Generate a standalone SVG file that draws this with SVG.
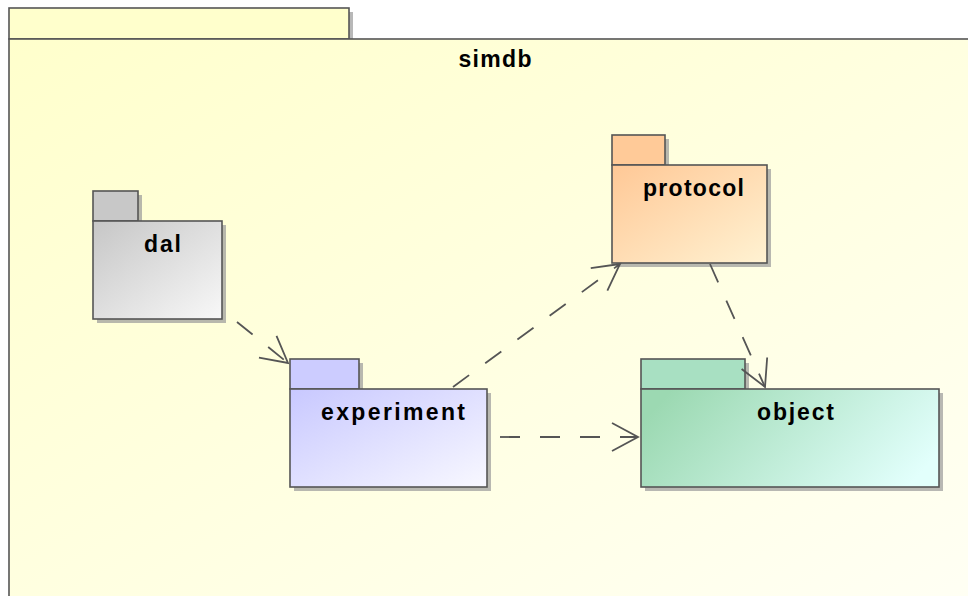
<svg xmlns="http://www.w3.org/2000/svg" width="968" height="596" viewBox="0 0 968 596">
  <style>
    .box { stroke: #555555; stroke-width: 1.6; }
    .shadow { fill: #9a9a9a; opacity: 0.7; }
    .label { font-family: "Liberation Sans", Arial, sans-serif; font-weight: bold; font-size: 23px; fill: #000000; text-anchor: middle; }
    .dep { fill: none; stroke: #555555; stroke-width: 1.8; stroke-dasharray: 20 20; }
  </style>
  <defs>
    <linearGradient id="gOuter" x1="0" y1="0" x2="1" y2="1">
      <stop offset="0" stop-color="#FFFFCC"/>
      <stop offset="1" stop-color="#FFFFF4"/>
    </linearGradient>
    <linearGradient id="gDal" x1="0" y1="0" x2="1" y2="1">
      <stop offset="0" stop-color="#C6C6C6"/>
      <stop offset="1" stop-color="#F8F8F8"/>
    </linearGradient>
    <linearGradient id="gExp" x1="0" y1="0" x2="1" y2="1">
      <stop offset="0" stop-color="#C8C8FF"/>
      <stop offset="1" stop-color="#F8F8FF"/>
    </linearGradient>
    <linearGradient id="gProt" x1="0" y1="0" x2="1" y2="1">
      <stop offset="0" stop-color="#FFC896"/>
      <stop offset="1" stop-color="#FFF2D2"/>
    </linearGradient>
    <linearGradient id="gObj" x1="0" y1="0.35" x2="1" y2="0.65">
      <stop offset="0" stop-color="#9CD9B2"/>
      <stop offset="1" stop-color="#E2FFFC"/>
    </linearGradient>
    <marker id="arr" viewBox="-32 -20 40 40" refX="0" refY="0" markerWidth="40" markerHeight="40" markerUnits="userSpaceOnUse" orient="auto" overflow="visible">
      <path d="M-26,-14 L0,0 L-26,14" fill="none" stroke="#555555" stroke-width="1.8" stroke-dasharray="none"/>
    </marker>
  </defs>

  <rect x="0" y="0" width="968" height="596" fill="#FFFFFF"/>

  <g id="simdb">
    <rect class="shadow" x="13" y="12" width="340" height="31"/>
    <rect class="box" x="9" y="8" width="340" height="31" fill="#FFFFCC"/>
    <rect class="shadow" x="13" y="43" width="960" height="560"/>
    <rect class="box" x="9" y="39" width="965" height="565" fill="url(#gOuter)"/>
    <text class="label" x="495" y="67" textLength="73" lengthAdjust="spacing">simdb</text>
  </g>

  <g id="dal">
    <rect class="shadow" x="97" y="195" width="45" height="30"/>
    <rect class="box" x="93" y="191" width="45" height="30" fill="#C8C8C8"/>
    <rect class="shadow" x="97" y="225" width="129" height="98"/>
    <rect class="box" x="93" y="221" width="129" height="98" fill="url(#gDal)"/>
    <text class="label" x="162.5" y="252" textLength="37" lengthAdjust="spacing">dal</text>
  </g>

  <g id="experiment">
    <rect class="shadow" x="294" y="363" width="69" height="30"/>
    <rect class="box" x="290" y="359" width="69" height="30" fill="#CCCCFF"/>
    <rect class="shadow" x="294" y="393" width="197" height="98"/>
    <rect class="box" x="290" y="389" width="197" height="98" fill="url(#gExp)"/>
    <text class="label" x="393" y="420" textLength="144" lengthAdjust="spacing">experiment</text>
  </g>

  <g id="protocol">
    <rect class="shadow" x="616" y="139" width="53" height="30"/>
    <rect class="box" x="612" y="135" width="53" height="30" fill="#FFCA98"/>
    <rect class="shadow" x="616" y="169" width="155" height="98"/>
    <rect class="box" x="612" y="165" width="155" height="98" fill="url(#gProt)"/>
    <text class="label" x="693.5" y="196" textLength="101" lengthAdjust="spacing">protocol</text>
  </g>

  <g id="object">
    <rect class="shadow" x="645" y="363" width="104" height="30"/>
    <rect class="box" x="641" y="359" width="104" height="30" fill="#A8E0C2"/>
    <rect class="shadow" x="645" y="393" width="298" height="98"/>
    <rect class="box" x="641" y="389" width="298" height="98" fill="url(#gObj)"/>
    <text class="label" x="795.5" y="420" textLength="77" lengthAdjust="spacing">object</text>
  </g>

  <g id="connectors">
    <line class="dep" x1="237" y1="322" x2="288" y2="363" marker-end="url(#arr)"/>
    <line class="dep" x1="453" y1="387" x2="620" y2="264" marker-end="url(#arr)"/>
    <line class="dep" x1="500" y1="437" x2="638" y2="437" marker-end="url(#arr)"/>
    <line class="dep" x1="710" y1="264" x2="765" y2="387" marker-end="url(#arr)"/>
  </g>
</svg>
